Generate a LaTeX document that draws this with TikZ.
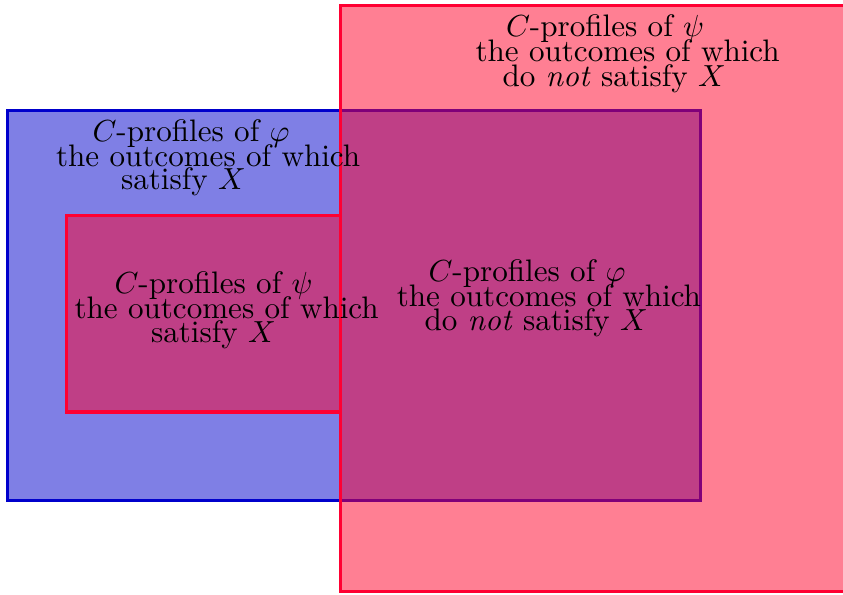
\documentclass[tikz,border=0pt]{standalone}
\usepackage{amsmath}
\definecolor{bluebox}{RGB}{0,0,204}
\definecolor{redfill}{RGB}{255,0,40}
\definecolor{redline}{RGB}{255,0,50}
\begin{document}
\begin{tikzpicture}[x=0.328pt,y=-0.328pt,
  bluerect/.style={draw=bluebox,line width=1pt,fill=bluebox,fill opacity=0.5},
  redrect/.style={draw=redline,line width=1pt,fill=redfill,fill opacity=0.5},
  txt/.style={anchor=base west,inner sep=0pt,outer sep=0pt,text=black,font=\fontsize{10.2}{12}\selectfont}]
\useasboundingbox (0,0) rectangle (843,595);
\clip (0,0) rectangle (843,595);
\path[bluerect] (7.5,110.8) rectangle (700.3,500.8);
\path[redrect] (340.5,5.5) rectangle (860,591.5);
\path[redrect] (66.5,215.5) rectangle (340.5,412);
% top right block
\node[txt] (a1) at (506,37) {$C$-profiles of $\psi$};
\node[txt] (a2) at (475.5,62) {the outcomes of which};
\node[txt] (a3) at (502.5,86.5) {do \emph{not} satisfy $X$};
% blue block
\node[txt] (b1) at (92.5,141.7) {$C$-profiles of $\varphi$};
\node[txt] (b2) at (56,166.4) {the outcomes of which};
\node[txt] (b3) at (121,190) {satisfy $X$};
% small red block
\node[txt] (c1) at (114.5,293.3) {$C$-profiles of $\psi$};
\node[txt] (c2) at (74.5,318) {the outcomes of which};
\node[txt] (c3) at (151,342.3) {satisfy $X$};
% overlap block
\node[txt] (d1) at (428.5,281.7) {$C$-profiles of $\varphi$};
\node[txt] (d2) at (396.8,306.4) {the outcomes of which};
\node[txt] (d3) at (424.5,331) {do \emph{not} satisfy $X$};
\end{tikzpicture}
\end{document}
